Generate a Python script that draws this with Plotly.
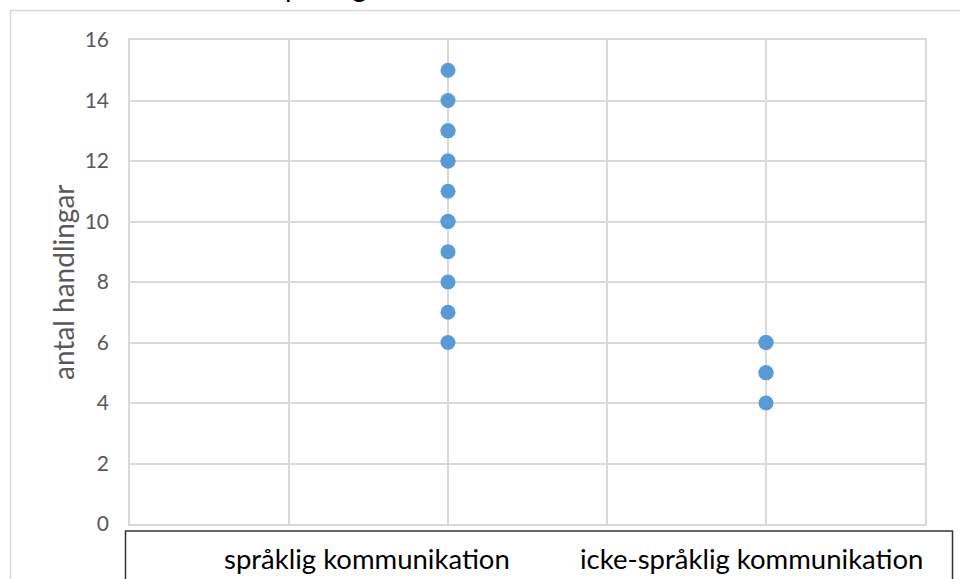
import plotly.graph_objects as go

# Data
categories = ["språklig kommunikation", "icke-språklig kommunikation"]
cat_x = [2, 4]
sprakl_values = [15, 14, 13, 13, 12, 12, 11, 10, 10, 9, 8, 7, 6]
icke_values = [6, 6, 5, 5, 4]
y_ticks = [0, 2, 4, 6, 8, 10, 12, 14, 16]
y_title = "antal handlingar"
chart_title = "språklig kommunikation"

W, H = 960, 579
L, R, T, B = 130, 35, 40, 55
pw, ph = W - L - R, H - T - B

def px_x(p):
    return (p - L) / pw

def px_y(p):
    return (H - B - p) / ph

fig = go.Figure()
fig.add_trace(go.Scatter(
    x=[cat_x[0]] * len(sprakl_values), y=sprakl_values, mode="markers",
    marker=dict(size=15, color="#5b9bd5"), showlegend=False, cliponaxis=False))
fig.add_trace(go.Scatter(
    x=[cat_x[1]] * len(icke_values), y=icke_values, mode="markers",
    marker=dict(size=15, color="#5b9bd5"), showlegend=False, cliponaxis=False))

shapes = [
    # outer chart border
    dict(type="rect", xref="paper", yref="paper",
         x0=px_x(10.5), x1=px_x(1000), y0=px_y(620), y1=px_y(10.5),
         line=dict(color="#d9d9d9", width=1.5), layer="below"),
    # category label box
    dict(type="rect", xref="paper", yref="paper",
         x0=px_x(125.5), x1=px_x(952.5), y0=px_y(620), y1=px_y(531),
         line=dict(color="#333333", width=1.5)),
]

annotations = [
    dict(text=y_title, xref="paper", yref="paper", x=px_x(63), y=0.5,
         textangle=-90, showarrow=False, xanchor="center", yanchor="middle",
         font=dict(family="Lato", size=28, color="#595959")),
    dict(text=chart_title, xref="paper", yref="paper", x=px_x(271), y=px_y(5),
         showarrow=False, xanchor="left", yanchor="bottom",
         font=dict(family="Lato", size=28, color="#000000")),
]
label_centers = [367, 751]
for txt, cx in zip(categories, label_centers):
    annotations.append(dict(text=txt, xref="paper", yref="paper", x=px_x(cx), y=px_y(558),
                            showarrow=False, xanchor="center", yanchor="middle",
                            font=dict(family="Lato", size=27.5, color="#000000")))

fig.update_layout(
    width=W, height=H,
    margin=dict(l=L, r=R, t=T, b=B, pad=0),
    paper_bgcolor="white", plot_bgcolor="white",
    font=dict(family="Lato", color="#595959"),
    shapes=shapes, annotations=annotations,
    xaxis=dict(range=[0, 5], dtick=1, tick0=0, showticklabels=False, ticks="",
               showgrid=True, gridcolor="#d9d9d9", gridwidth=1.5, zeroline=False,
               showline=True, mirror=True, linecolor="#d9d9d9", linewidth=1.5,
               fixedrange=True),
    yaxis=dict(range=[0, 16], tickvals=y_ticks, ticks="", ticklabelstandoff=15,
               showgrid=True, gridcolor="#d9d9d9", gridwidth=1.5, zeroline=False,
               showline=True, mirror=True, linecolor="#d9d9d9", linewidth=1.5,
               tickfont=dict(family="Lato", size=21, color="#595959"),
               fixedrange=True),
)

fig.write_html("out.html", config={"displayModeBar": False})

# remove default page margin so the figure sits at the window's top-left corner
with open("out.html", "r", encoding="utf-8") as f:
    html = f.read()
html = html.replace("<head>", "<head><style>html,body{margin:0;padding:0;overflow:hidden;}</style>", 1)
with open("out.html", "w", encoding="utf-8") as f:
    f.write(html)
